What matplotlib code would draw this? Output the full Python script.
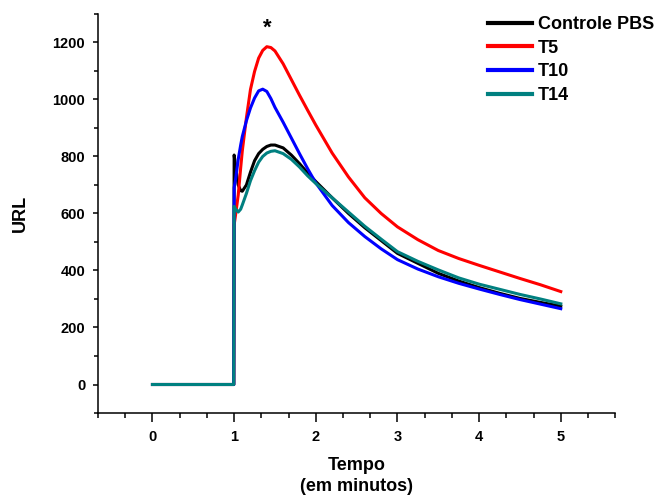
import numpy as np
import matplotlib
matplotlib.use('Agg')
import matplotlib.pyplot as plt
from matplotlib.ticker import MultipleLocator

plt.rcParams['font.family'] = ['Liberation Sans', 'DejaVu Sans']
plt.rcParams['font.weight'] = 'bold'

# time in minutes
tempo = [0, 0.995, 1.0, 1.02, 1.05, 1.08, 1.1, 1.15, 1.2, 1.25, 1.3, 1.35, 1.4, 1.45, 1.5,
         1.6, 1.7, 1.8, 1.9, 2.0, 2.2, 2.4, 2.6, 2.8, 3.0, 3.25, 3.5, 3.75, 4.0, 4.25,
         4.5, 4.75, 5.0]

controle = [0, 0, 805, 760, 700, 680, 678, 700, 745, 785, 810, 825, 835, 840, 840,
            830, 805, 775, 742, 712, 655, 600, 550, 505, 460, 425, 390, 363, 340, 320,
            302, 288, 275]
t5 = [0, 0, 560, 600, 665, 760, 820, 935, 1035, 1098, 1145, 1172, 1185, 1182, 1170,
      1125, 1070, 1015, 962, 910, 812, 728, 655, 600, 553, 508, 470, 442, 418, 395,
      372, 350, 326]
t10 = [0, 0, 690, 725, 790, 840, 870, 925, 970, 1005, 1030, 1036, 1028, 1003, 972,
       920, 865, 810, 757, 707, 628, 568, 519, 476, 438, 405, 378, 355, 335, 316,
       298, 282, 266]
t14 = [0, 0, 625, 615, 605, 615, 630, 670, 715, 750, 780, 800, 812, 818, 820,
       810, 790, 763, 732, 705, 655, 605, 555, 510, 466, 432, 402, 374, 352, 334,
       316, 300, 283]

series = [('Controle PBS', controle, 'black'),
          ('T5', t5, '#ff0000'),
          ('T10', t10, '#0000ff'),
          ('T14', t14, '#008080')]

fig = plt.figure(figsize=(6.58, 4.97), dpi=100)
ax = fig.add_axes([0.149, 0.169, 0.786, 0.803])

for name, vals, col in series:
  ax.plot(tempo, vals, color=col, linewidth=2.2, label=name)

ax.text(1.41, 1250, '*', ha='center', va='center', fontsize=16, fontweight='bold')

ax.set_xlim(-2/3, 5 + 2/3)
ax.set_ylim(-100, 1300)
ax.xaxis.set_major_locator(MultipleLocator(1))
ax.xaxis.set_minor_locator(MultipleLocator(1/3))
ax.yaxis.set_major_locator(MultipleLocator(200))
ax.yaxis.set_minor_locator(MultipleLocator(100))

ax.spines['top'].set_visible(False)
ax.spines['right'].set_visible(False)
for s in ['left', 'bottom']:
  ax.spines[s].set_linewidth(1.1)

ax.tick_params(axis='x', which='major', length=6.5, width=1.1, pad=6, labelsize=10.5)
ax.tick_params(axis='x', which='minor', length=3.6, width=1.1)
ax.tick_params(axis='y', which='major', length=3.8, width=1.1, pad=5.5, labelsize=10.5)
ax.tick_params(axis='y', which='minor', length=3.0, width=1.1)

ax.set_xlabel('Tempo\n(em minutos)', fontsize=13, fontweight='bold', labelpad=9, linespacing=1.35)
ax.set_ylabel('URL', fontsize=13, fontweight='bold', labelpad=17)

fig.legend(loc='upper left', bbox_to_anchor=(0.7416, 0.968), frameon=False,
           fontsize=13, handlelength=2.45, handletextpad=0.3, labelspacing=0.37,
           borderpad=0, borderaxespad=0)
for line in fig.legends[0].get_lines():
  line.set_linewidth(3)

fig.savefig('out.png', dpi=100)
